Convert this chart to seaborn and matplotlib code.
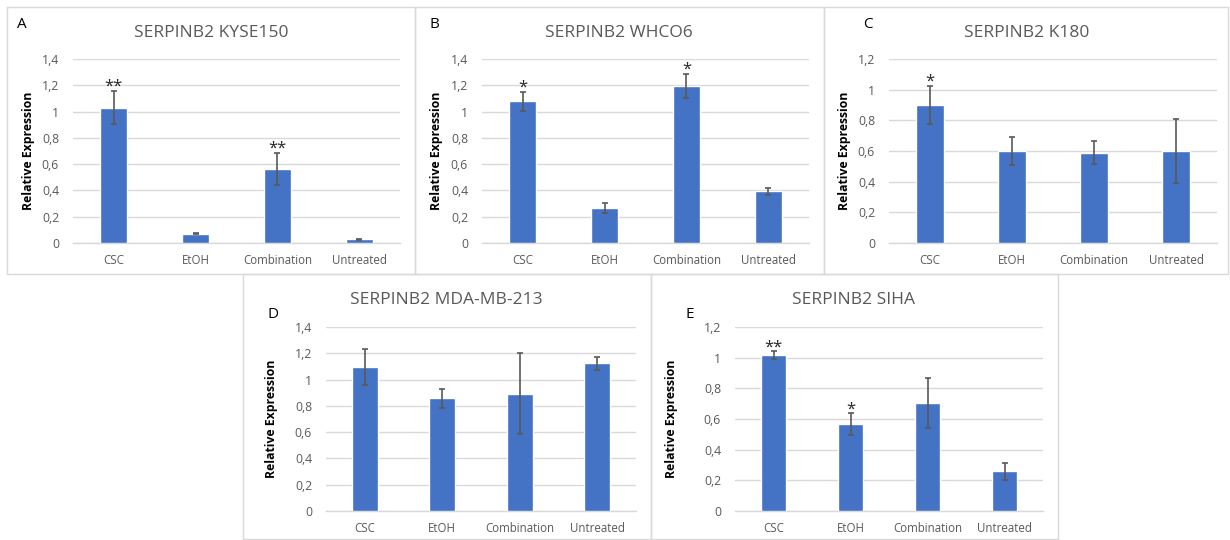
import matplotlib
matplotlib.use("Agg")
import matplotlib.pyplot as plt
from matplotlib.lines import Line2D
import numpy as np
import pandas as pd
import seaborn as sns

sns.set_theme(style="white")
plt.rcParams["font.family"] = ["Open Sans", "DejaVu Sans"]

# ---- data -------------------------------------------------------------
categories = ["CSC", "EtOH", "Combination", "Untreated"]

kyse150_mean = [1.03, 0.072, 0.565, 0.029]
kyse150_err = [0.127, 0.007, 0.122, 0.005]
kyse150_sig = ["**", "", "**", ""]

whco6_mean = [1.08, 0.265, 1.195, 0.393]
whco6_err = [0.072, 0.038, 0.092, 0.027]
whco6_sig = ["*", "", "*", ""]

k180_mean = [0.90, 0.60, 0.59, 0.60]
k180_err = [0.125, 0.09, 0.074, 0.21]
k180_sig = ["*", "", "", ""]

mda_mean = [1.094, 0.858, 0.894, 1.125]
mda_err = [0.137, 0.074, 0.31, 0.05]
mda_sig = ["", "", "", ""]

siha_mean = [1.017, 0.566, 0.705, 0.258]
siha_err = [0.025, 0.07, 0.165, 0.058]
siha_sig = ["**", "*", "", ""]

titles = ["SERPINB2 KYSE150", "SERPINB2 WHCO6", "SERPINB2 K180",
          "SERPINB2 MDA-MB-213", "SERPINB2 SIHA"]
letters = ["A", "B", "C", "D", "E"]
y_max = [1.4, 1.4, 1.2, 1.4, 1.2]

# ---- layout (pixel geometry of a 1230 x 540 canvas) -------------------
W, H = 1230, 540
BAR = "#4472C4"
GRID = "#D9D9D9"
TXT = "#595959"

panels = [
    dict(mean=kyse150_mean, err=kyse150_err, sig=kyse150_sig,
         ax=(73, 59, 400, 243), frame=(7, 7, 415, 274),
         title=(211, 33), letter=(22, 25), ylab=38),
    dict(mean=whco6_mean, err=whco6_err, sig=whco6_sig,
         ax=(482, 59, 809, 243), frame=(415, 7, 824, 274),
         title=(619, 33), letter=(434, 25), ylab=39),
    dict(mean=k180_mean, err=k180_err, sig=k180_sig,
         ax=(889, 59, 1217, 243), frame=(824, 7, 1228, 274),
         title=(1027, 33), letter=(868, 25), ylab=38),
    dict(mean=mda_mean, err=mda_err, sig=mda_sig,
         ax=(326, 327, 636, 511), frame=(243, 274, 651, 539),
         title=(446, 300), letter=(273, 315), ylab=48),
    dict(mean=siha_mean, err=siha_err, sig=siha_sig,
         ax=(735, 327, 1043, 511), frame=(651, 274, 1058, 539),
         title=(853, 300), letter=(690, 314), ylab=57),
]

fig = plt.figure(figsize=(W / 100, H / 100), dpi=100)
fig.patch.set_facecolor("white")


def fx(px):
    return px / W


def fy(py):
    return 1 - py / H


def tick_label(v):
    s = f"{v:.1f}".rstrip("0").rstrip(".")
    return s.replace(".", ",")


# panel frames
for p in panels:
    x0, y0, x1, y1 = p["frame"]
    for xs, ys in [((x0, x1), (y0, y0)), ((x0, x1), (y1, y1)),
                   ((x0, x0), (y0, y1)), ((x1, x1), (y0, y1))]:
        fig.add_artist(Line2D([fx(xs[0]), fx(xs[1])], [fy(ys[0]), fy(ys[1])],
                              transform=fig.transFigure, color=GRID, lw=1.0))

for i, p in enumerate(panels):
    x0, y0, x1, y1 = p["ax"]
    ax = fig.add_axes([fx(x0), fy(y1), (x1 - x0) / W, (y1 - y0) / H])
    df = pd.DataFrame({"Treatment": categories, "Expression": p["mean"]})
    sns.barplot(data=df, x="Treatment", y="Expression", color=BAR,
                saturation=1, width=0.33, ax=ax, zorder=3)
    ax.errorbar(np.arange(len(categories)), p["mean"], yerr=p["err"],
                fmt="none", ecolor=TXT, elinewidth=1.2, capsize=2.5,
                capthick=1.2, zorder=4)
    for j, s in enumerate(p["sig"]):
        if s:
            ax.annotate(s, (j, p["mean"][j] + p["err"][j]),
                        xytext=(0, -3), textcoords="offset points",
                        ha="center", va="bottom", fontsize=12,
                        color="#262626")

    ticks = np.round(np.arange(0, y_max[i] + 1e-9, 0.2), 1)
    ax.set_ylim(0, y_max[i])
    ax.set_xlim(-0.5, len(categories) - 0.5)
    ax.set_yticks(ticks)
    ax.set_yticklabels([tick_label(t) for t in ticks])
    ax.grid(axis="y", color=GRID, lw=1.0, zorder=0)
    ax.set_axisbelow(True)
    for side in ["top", "right", "left"]:
        ax.spines[side].set_visible(False)
    ax.spines["bottom"].set_color(GRID)
    ax.spines["bottom"].set_linewidth(1.0)
    ax.tick_params(axis="both", length=0, colors=TXT)
    ax.tick_params(axis="y", pad=10, labelsize=8.8)
    ax.tick_params(axis="x", pad=8, labelsize=8.3)
    ax.set_xlabel("")
    ax.set_ylabel("Relative Expression", fontsize=8.8, fontweight="bold",
                  color="black")
    ax.yaxis.set_label_coords(-p["ylab"] / (x1 - x0), 0.5)
    ax.set_facecolor("white")

    tx, ty = p["title"]
    fig.text(fx(tx), fy(ty), titles[i], ha="center", va="center",
             fontsize=12.5, color=TXT)
    lx, ly = p["letter"]
    fig.text(fx(lx), fy(ly), letters[i], ha="center", va="center",
             fontsize=11, color="black")

fig.savefig("out.png", dpi=100, facecolor="white")
